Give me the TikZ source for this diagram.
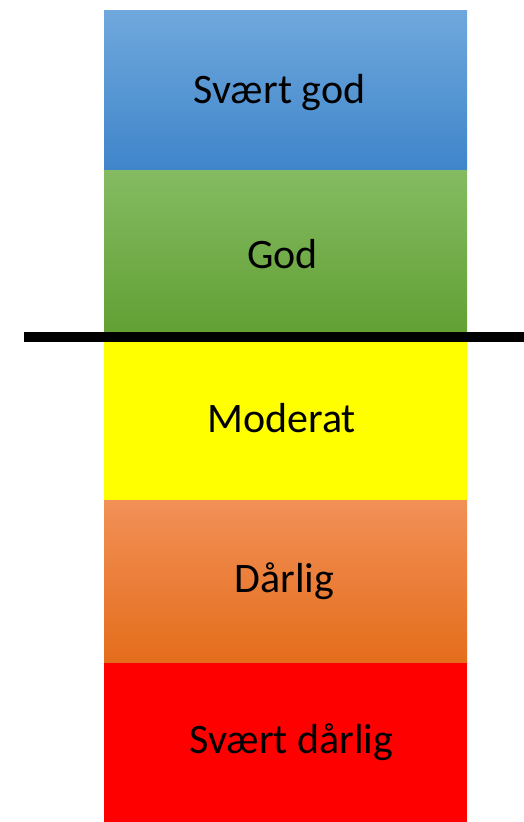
\documentclass[tikz,border=0pt]{standalone}
\usepackage{fontspec}
\setmainfont{Carlito}
\definecolor{bluetop}{HTML}{6FA8DC}
\definecolor{bluebot}{HTML}{3F85CA}
\definecolor{greentop}{HTML}{84BB62}
\definecolor{greenbot}{HTML}{62A034}
\definecolor{orangetop}{HTML}{F29057}
\definecolor{orangebot}{HTML}{E46D1B}
\definecolor{yel}{HTML}{FFFF00}
\definecolor{rd}{HTML}{FF0000}
\begin{document}
\begin{tikzpicture}[x=1pt,y=-1pt,
  band/.style={minimum width=363pt,minimum height=#1,inner sep=0pt,outer sep=0pt,anchor=north west,
    font=\fontsize{42}{46}\selectfont},
  lbl/.style={font=\fontsize{42}{46}\selectfont,inner sep=0pt},
  ]
\useasboundingbox (0,0) rectangle (524,822);
\node[band=160pt,top color=bluetop,bottom color=bluebot] (b1) at (104,10) {};
\node[band=162pt,top color=greentop,bottom color=greenbot] (b2) at (104,170) {};
\node[band=168pt,fill=yel] (b3) at (104,332) {};
\node[band=163pt,top color=orangetop,bottom color=orangebot] (b4) at (104,500) {};
\node[band=159pt,fill=rd] (b5) at (104,663) {};
\node[lbl] (t1) at ([xshift=-6pt,yshift=-3pt]b1.center) {Svært god};
\node[lbl] (t2) at ([xshift=-3pt,yshift=-3pt]b2.center) {God};
\node[lbl] (t3) at ([xshift=-4pt,yshift=-2pt]b3.center) {Moderat};
\node[lbl] (t4) at ([xshift=-1pt,yshift=0pt]b4.center) {Dårlig};
\node[lbl] (t5) at ([xshift=6pt,yshift=0pt]b5.center) {Svært dårlig};
\coordinate (l1) at (24,337);
\coordinate (l2) at (524,337);
\draw[line width=10pt,black] (l1) -- (l2);
\end{tikzpicture}
\end{document}
